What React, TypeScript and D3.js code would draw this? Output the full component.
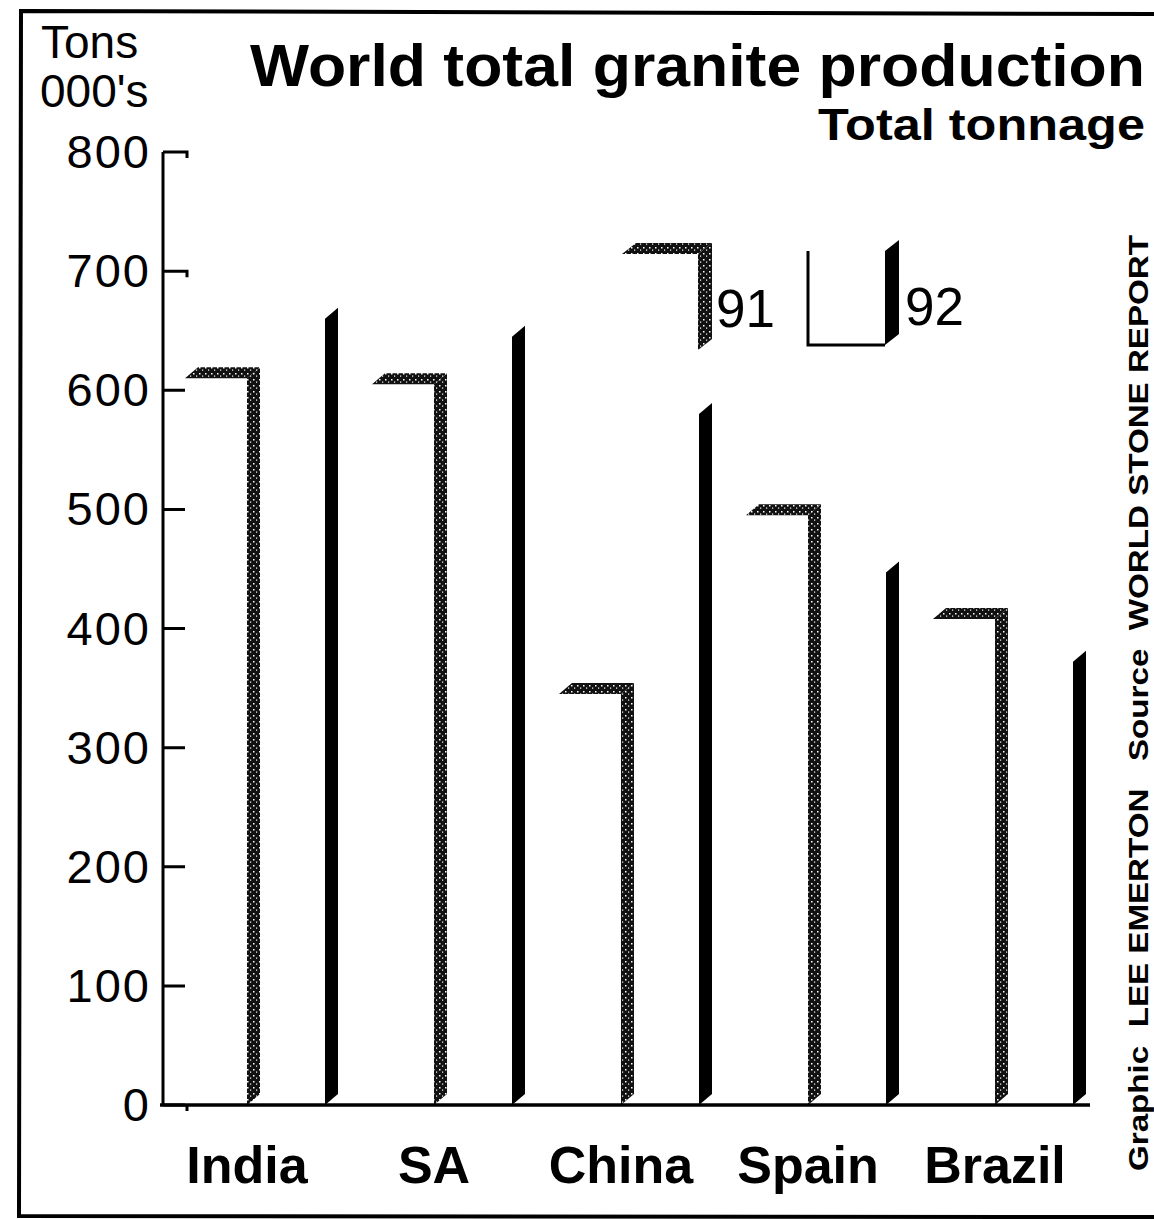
import React from 'react';
import * as d3 from 'd3';

const categories = ["India", "SA", "China", "Spain", "Brazil"];
const values1991 = [610, 605, 345, 495, 408];
const values1992 = [660, 645, 580, 447, 372];
const yTicks = [0, 100, 200, 300, 400, 500, 600, 700, 800];
const legendYears = ["91", "92"];

const FONT = "'Liberation Sans', Arial, Helvetica, sans-serif";

function Box3D({ x0, w, yTop, base, dx, dy, side, top, front, outline }: any) {
  const topPts = [[x0, yTop], [x0 + dx, yTop - dy], [x0 + w + dx, yTop - dy], [x0 + w, yTop]];
  const sidePts = [[x0 + w, yTop], [x0 + w + dx, yTop - dy], [x0 + w + dx, base - dy], [x0 + w, base]];
  const pts = (p: number[][]) => p.map((q) => q.join(",")).join(" ");
  return (
    <g>
      <rect x={x0} y={yTop} width={w} height={base - yTop} fill={front} />
      {outline && (
        <path d={`M${x0},${yTop} L${x0},${base} L${x0 + w},${base}`} fill="none" stroke="#000" strokeWidth={3} />
      )}
      {top !== "none" && <polygon points={pts(topPts)} fill={top} />}
      <polygon points={pts(sidePts)} fill={side} />
    </g>
  );
}

export default function App() {
  const W = 1154, H = 1219;
  const y = d3.scaleLinear().domain([0, 800]).range([1105, 152]);
  const x = d3.scaleBand().domain(categories).range([180, 1115]).padding(0);
  const off = 5;
  const w1 = 62, w2 = 78, dx = 13, dy = 11;
  const base = y(0);

  return (
    <svg width={W} height={H} viewBox={`0 0 ${W} ${H}`} style={{ position: "absolute", left: 0, top: 0, background: "#fff" }} fontFamily={FONT}>
      <defs>
        <pattern id="stip" width="6" height="6" patternUnits="userSpaceOnUse">
          <rect width="6" height="6" fill="#111" />
          <rect x="1" y="1" width="1.5" height="1.5" fill="#fff" />
          <rect x="4" y="3.5" width="1.2" height="1.2" fill="#fff" />
        </pattern>
      </defs>
      <rect x={0} y={0} width={W} height={H} fill="#fff" />
      {/* frame */}
      <path d={`M${W},14 L21,11 L19,1216 L${W},1217`} fill="none" stroke="#000" strokeWidth={4} />

      {/* titles */}
      <text x={250} y={86} fontSize={60} fontWeight="bold" textLength={895} lengthAdjust="spacingAndGlyphs">World total granite production</text>
      <text x={818} y={140} fontSize={44} fontWeight="bold" textLength={327} lengthAdjust="spacingAndGlyphs">Total tonnage</text>
      <text x={41} y={58} fontSize={46}>Tons</text>
      <text x={40} y={107} fontSize={46}>000's</text>

      {/* y axis */}
      <line x1={163} y1={y(800)} x2={163} y2={base} stroke="#000" strokeWidth={3} />
      {yTicks.map((t) => (
        <g key={t}>
          <path d={`M163,${y(t)} L187,${y(t)} L187,${y(t) + 6}`} fill="none" stroke="#000" strokeWidth={3} />
          <text x={151} y={y(t) + 16} fontSize={47} letterSpacing={2} textAnchor="end">{t}</text>
        </g>
      ))}

      {/* bars */}
      {categories.map((c, i) => {
        const x0 = (x(c) as number) + off;
        return (
          <g key={c}>
            <Box3D x0={x0 + w1} w={w2} yTop={y(values1992[i])} base={base} dx={dx} dy={dy} side="#000" top="none" front="#fff" />
            <Box3D x0={x0} w={w1} yTop={y(values1991[i])} base={base} dx={dx} dy={dy} side="url(#stip)" top="url(#stip)" front="#fff" />
          </g>
        );
      })}

      {/* baseline */}
      <line x1={160} y1={base} x2={1090} y2={base} stroke="#000" strokeWidth={3.5} />

      {/* category labels */}
      {categories.map((c) => (
        <text key={c} x={(x(c) as number) + off + 62} y={1183} fontSize={52} fontWeight="bold" textAnchor="middle">{c}</text>
      ))}

      {/* legend */}
      <Box3D x0={622} w={76} yTop={254} base={350} dx={14} dy={11} side="url(#stip)" top="url(#stip)" front="#fff" />
      <text x={716} y={327} fontSize={53}>{legendYears[0]}</text>
      <Box3D x0={808} w={77} yTop={251} base={345} dx={14} dy={11} side="#000" top="none" front="#fff" outline />
      <text x={905} y={325} fontSize={53}>{legendYears[1]}</text>

      {/* credit */}
      <text transform="translate(1148,1171) rotate(-90)" fontSize={28} fontWeight="bold" textLength={936} lengthAdjust="spacingAndGlyphs" xmlSpace="preserve">Graphic  LEE EMERTON   Source  WORLD STONE REPORT</text>
    </svg>
  );
}
